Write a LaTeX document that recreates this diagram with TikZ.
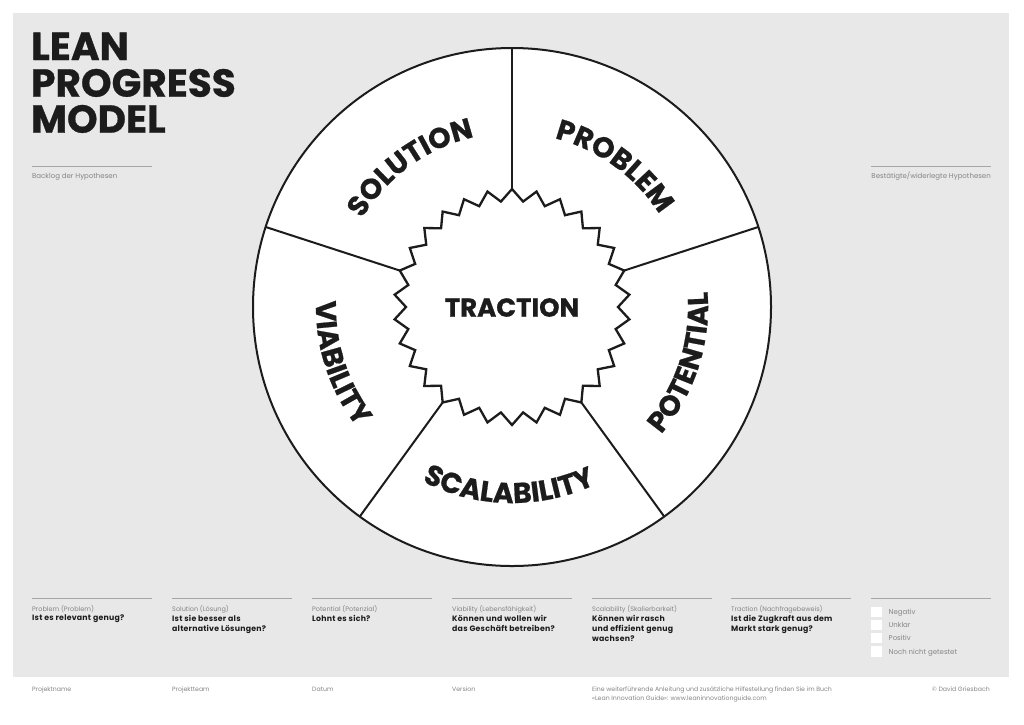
\documentclass[tikz,border=0pt]{standalone}
\usepackage{fontspec}
\setmainfont{Poppins}
\newfontfamily\heavyfam{Poppins}[FakeBold=0.7]
\newfontfamily\spacedfam{Poppins}[LetterSpace=3]
\usetikzlibrary{decorations.text}
\definecolor{panelgray}{HTML}{E8E8E8}
\definecolor{softgray}{HTML}{858585}
\definecolor{rulegray}{HTML}{A6A6A6}
\definecolor{ink}{HTML}{1C1C1C}
\newcommand\titlefont{\heavyfam\bfseries\fontsize{39}{36}\selectfont}
\newcommand\segfont{\heavyfam\bfseries\fontsize{28.5}{29}\selectfont}
\newcommand\capfont{\fontsize{7}{10}\selectfont}
\newcommand\labfont{\fontsize{6.5}{10}\selectfont}
\newcommand\footfont{\fontsize{6.2}{9.5}\selectfont}
\newcommand\qfont{\spacedfam\bfseries\fontsize{7.8}{10}\selectfont}
\tikzset{
  arclabel/.style={decorate, decoration={text along path, text align=center,
      text format delimiters={|}{|}, text={#1}}},
  rulestyle/.style={draw=rulegray, line width=0.9pt},
  smalltext/.style={font=\labfont, text=softgray, inner sep=0},
  qtext/.style={font=\qfont, text=ink, inner sep=0, align=left},
  boxstyle/.style={fill=white, minimum size=10.5pt, inner sep=0, anchor=north west},
  wheelline/.style={draw=ink, line width=2pt},
  titletext/.style={font=\titlefont, text=ink, inner sep=0, anchor=base west},
}
\begin{document}
\begin{tikzpicture}[x=1pt,y=1pt]
\useasboundingbox (0,0) rectangle (1024,-724);
\fill[white] (0,0) rectangle (1024,-724);
\fill[panelgray] (13,-13) rectangle (1009,-677);

% title
\node[titletext] (t1) at (31,-60) {LEAN};
\node[titletext] (t2) at (31,-96.7) {PROGRESS};
\node[titletext] (t3) at (31,-132.7) {MODEL};

% side captions
\draw[rulestyle] (32,-166) coordinate (bl1) -- (152,-166) coordinate (bl2);
\node[smalltext, font=\capfont, anchor=base west] (backlog) at (32,-178) {Backlog der Hypothesen};
\draw[rulestyle] (871,-166) coordinate (br1) -- (991,-166) coordinate (br2);
\node[smalltext, font=\capfont, anchor=base east] (confirmed) at (991,-178) {Bestätigte/widerlegte Hypothesen};

% wheel
\coordinate (c) at (512,-307);
\node[circle, draw=ink, fill=white, line width=2pt, minimum size=518pt, inner sep=0, outer sep=0] (wheel) at (c) {};

% star
\draw[draw=ink, fill=white, line width=2.3pt, line join=miter, shift={(512,-307)}]
  (90:118) \foreach \k in {0,...,29} { -- ({96+12*\k}:106) -- ({102+12*\k}:118) } -- cycle;

\coordinate (spA) at ([shift={(90:118)}]512,-307);
\coordinate (spB) at ([shift={(18:118)}]512,-307);
\coordinate (spC) at ([shift={(-54:118)}]512,-307);
\coordinate (spD) at ([shift={(-126:118)}]512,-307);
\coordinate (spE) at ([shift={(162:118)}]512,-307);
\draw[wheelline] (spA) -- (wheel.90);
\draw[wheelline] (spB) -- (wheel.18);
\draw[wheelline] (spC) -- (wheel.-54);
\draw[wheelline] (spD) -- (wheel.-126);
\draw[wheelline] (spE) -- (wheel.162);

\node[font=\heavyfam\bfseries\fontsize{26}{26}\selectfont, text=ink, inner sep=0] (traction) at (512,-307.5) {TRACTION};

% segment labels along arcs
\path[shift={(512,-307)}, arclabel={|\segfont\color{ink}|SOLUTION}] (171:174) arc[start angle=171, end angle=81, radius=174];
\path[shift={(512,-307)}, arclabel={|\segfont\color{ink}|PROBLEM}] (99:174) arc[start angle=99, end angle=9, radius=174];
\path[shift={(512,-307)}, arclabel={|\segfont\color{ink}|POTENTIAL}] (-68:196) arc[start angle=-68, end angle=32, radius=196];
\path[shift={(512,-307)}, arclabel={|\segfont\color{ink}|SCALABILITY}] (-146:196) arc[start angle=-146, end angle=-36, radius=196];
\path[shift={(512,-307)}, arclabel={|\segfont\color{ink}|VIABILITY}] (148:196) arc[start angle=148, end angle=248, radius=196];

% bottom columns
\foreach \x/\n in {32/1,172/2,312/3,452/4,592/5,731/6,871/7} {
  \draw[rulestyle] (\x,-598.3) coordinate (cl\n) -- ++(120,0) coordinate (cr\n);
}
\node[smalltext, anchor=base west] (l1) at (32,-611) {Problem (Problem)};
\node[smalltext, anchor=base west] (l2) at (172,-611) {Solution (Lösung)};
\node[smalltext, anchor=base west] (l3) at (312,-611) {Potential (Potenzial)};
\node[smalltext, anchor=base west] (l4) at (452,-611) {Viability (Lebensfähigkeit)};
\node[smalltext, anchor=base west] (l5) at (592,-611) {Scalability (Skalierbarkeit)};
\node[smalltext, anchor=base west] (l6) at (731,-611) {Traction (Nachfragebeweis)};

\node[qtext, anchor=north west] (q1) at (32,-614.8) {Ist es relevant genug?};
\node[qtext, anchor=north west] (q2) at (172,-614.8) {Ist sie besser als\\alternative Lösungen?};
\node[qtext, anchor=north west] (q3) at (312,-614.8) {Lohnt es sich?};
\node[qtext, anchor=north west] (q4) at (452,-614.8) {Können und wollen wir\\das Geschäft betreiben?};
\node[qtext, anchor=north west] (q5) at (592,-614.8) {Können wir rasch\\und effizient genug\\wachsen?};
\node[qtext, anchor=north west] (q6) at (731,-614.8) {Ist die Zugkraft aus dem\\Markt stark genug?};

% legend
\node[boxstyle] (b1) at (871,-606.3) {};
\node[boxstyle] (b2) at (871,-619.3) {};
\node[boxstyle] (b3) at (871,-632.6) {};
\node[boxstyle] (b4) at (871,-646) {};
\node[smalltext, font=\capfont, anchor=base west] (k1) at (888.5,-614) {Negativ};
\node[smalltext, font=\capfont, anchor=base west] (k2) at (888.5,-627.2) {Unklar};
\node[smalltext, font=\capfont, anchor=base west] (k3) at (888.5,-640.5) {Positiv};
\node[smalltext, font=\capfont, anchor=base west] (k4) at (888.5,-654) {Noch nicht getestet};

% footer
\node[smalltext, font=\footfont, anchor=base west] (f1) at (32,-691) {Projektname};
\node[smalltext, font=\footfont, anchor=base west] (f2) at (172,-691) {Projektteam};
\node[smalltext, font=\footfont, anchor=base west] (f3) at (312,-691) {Datum};
\node[smalltext, font=\footfont, anchor=base west] (f4) at (452,-691) {Version};
\node[smalltext, font=\footfont, anchor=base west] (f5) at (592,-691) {Eine weiterführende Anleitung und zusätzliche Hilfestellung finden Sie im Buch};
\node[smalltext, font=\footfont, anchor=base west] (f6) at (592,-700.3) {«Lean Innovation Guide»: www.leaninnovationguide.com};
\node[smalltext, font=\footfont, anchor=base east] (f7) at (990,-691) {© David Griesbach};
\end{tikzpicture}
\end{document}
